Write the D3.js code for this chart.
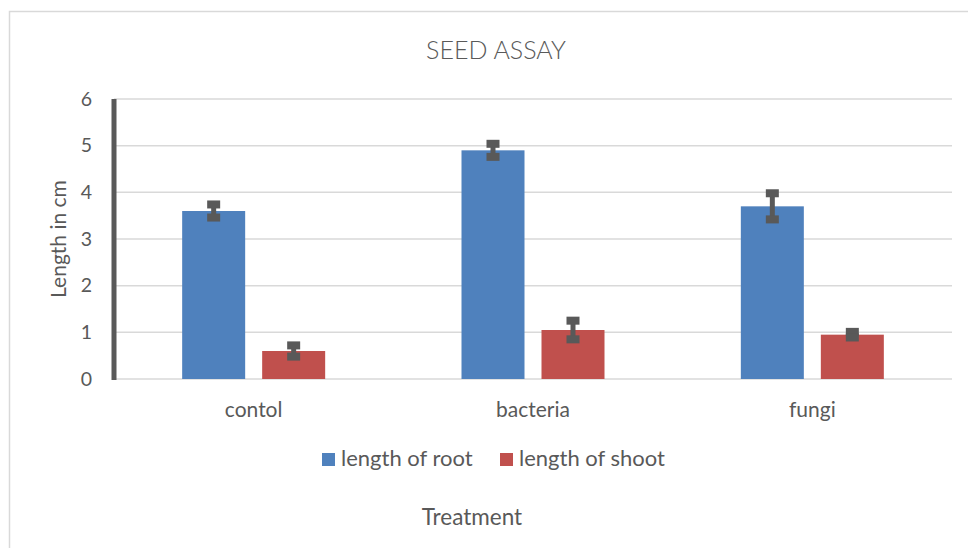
<!DOCTYPE html>
<html lang="en">
<head>
    <meta charset="UTF-8">
    <script src="https://d3js.org/d3.v7.min.js"></script>
    <title>Seed assay</title>
</head>
<body style="margin: 0; background: #fff;">
<script>
    // data
    const categories = ["contol", "bacteria", "fungi"];
    const series = ["length of root", "length of shoot"];
    const rootValues = [3.6, 4.9, 3.7];
    const shootValues = [0.6, 1.05, 0.95];
    const rootErrors = [0.14, 0.14, 0.28];
    const shootErrors = [0.12, 0.2, 0.06];
    const yTicks = [0, 1, 2, 3, 4, 5, 6];
    const colors = ["#4f81bd", "#c0504d"];

    const width = 968;
    const height = 548;
    const margin = { top: 99, right: 16, bottom: 168, left: 114 };
    const font = "Lato, 'Open Sans', sans-serif";
    const textColor = "#595959";

    const rows = [];
    categories.forEach((c, i) => {
        rows.push({ cat: c, s: series[0], v: rootValues[i], e: rootErrors[i] });
        rows.push({ cat: c, s: series[1], v: shootValues[i], e: shootErrors[i] });
    });

    const svg = d3.select("body")
        .append("svg")
        .attr("width", width)
        .attr("height", height)
        .attr("viewBox", [0, 0, width, height])
        .style("font-family", font);

    // chart area border
    svg.append("rect")
        .attr("x", 9.5)
        .attr("y", 11.5)
        .attr("width", width + 20)
        .attr("height", height + 20)
        .attr("fill", "#fff")
        .attr("stroke", "#d9d9d9")
        .attr("stroke-width", 1.5);

    const x0 = d3.scaleBand()
        .domain(categories)
        .range([margin.left, width - margin.right]);

    const groupW = 143;
    const x1 = d3.scaleBand()
        .domain(series)
        .range([0, groupW])
        .paddingInner(0.2125);

    const y = d3.scaleLinear()
        .domain([0, 6])
        .range([height - margin.bottom - 1, margin.top]);

    // gridlines
    svg.append("g")
        .selectAll("line")
        .data(yTicks)
        .join("line")
        .attr("x1", margin.left)
        .attr("x2", width - margin.right)
        .attr("y1", d => y(d))
        .attr("y2", d => y(d))
        .attr("stroke", "#d9d9d9")
        .attr("stroke-width", 1.5);

    // y tick labels
    svg.append("g")
        .selectAll("text")
        .data(yTicks)
        .join("text")
        .attr("x", 92)
        .attr("y", d => y(d))
        .attr("dy", "0.35em")
        .attr("text-anchor", "end")
        .attr("font-size", 19.5)
        .attr("fill", textColor)
        .text(d => d);

    // thick left axis line
    svg.append("line")
        .attr("x1", margin.left)
        .attr("x2", margin.left)
        .attr("y1", y(6))
        .attr("y2", y(0) + 1)
        .attr("stroke", "#595959")
        .attr("stroke-width", 5);

    const barX = d => x0(d.cat) + (x0.bandwidth() - groupW) / 2 + x1(d.s);

    svg.append("g")
        .selectAll("rect")
        .data(rows)
        .join("rect")
        .attr("x", barX)
        .attr("y", d => y(d.v))
        .attr("width", x1.bandwidth())
        .attr("height", d => y(0) - y(d.v))
        .attr("fill", d => colors[series.indexOf(d.s)]);

    // error bars
    const err = svg.append("g")
        .selectAll("g")
        .data(rows)
        .join("g")
        .attr("transform", d => `translate(${barX(d) + x1.bandwidth() / 2},0)`);

    err.append("line")
        .attr("y1", d => y(d.v + d.e))
        .attr("y2", d => y(d.v - d.e))
        .attr("stroke", "#595959")
        .attr("stroke-width", 5);

    err.selectAll("rect")
        .data(d => [d.v + d.e, d.v - d.e])
        .join("rect")
        .attr("x", -6.5)
        .attr("y", v => y(v) - 4)
        .attr("width", 13)
        .attr("height", 8)
        .attr("fill", "#595959");

    // category labels
    svg.append("g")
        .selectAll("text")
        .data(categories)
        .join("text")
        .attr("x", d => x0(d) + x0.bandwidth() / 2)
        .attr("y", 417)
        .attr("text-anchor", "middle")
        .attr("font-size", 21)
        .attr("fill", textColor)
        .text(d => d);

    // title
    svg.append("text")
        .attr("x", 496)
        .attr("y", 59)
        .attr("text-anchor", "middle")
        .attr("font-size", 25)
        .attr("font-weight", 300)
        .attr("fill", textColor)
        .text("SEED ASSAY");

    // axis titles
    svg.append("text")
        .attr("transform", `translate(66,${(y(0) + y(6)) / 2}) rotate(-90)`)
        .attr("text-anchor", "middle")
        .attr("font-size", 21)
        .attr("fill", textColor)
        .text("Length in cm");

    svg.append("text")
        .attr("x", 472)
        .attr("y", 525)
        .attr("text-anchor", "middle")
        .attr("font-size", 22.5)
        .attr("fill", textColor)
        .text("Treatment");

    // legend
    const legendX = [322, 500];
    const legend = svg.append("g")
        .selectAll("g")
        .data(series)
        .join("g")
        .attr("transform", (d, i) => `translate(${legendX[i]},453)`);

    legend.append("rect")
        .attr("width", 13)
        .attr("height", 13)
        .attr("fill", (d, i) => colors[i]);

    legend.append("text")
        .attr("x", 19)
        .attr("y", 13)
        .attr("font-size", 22)
        .attr("fill", textColor)
        .text(d => d);
</script>
</body>
</html>
